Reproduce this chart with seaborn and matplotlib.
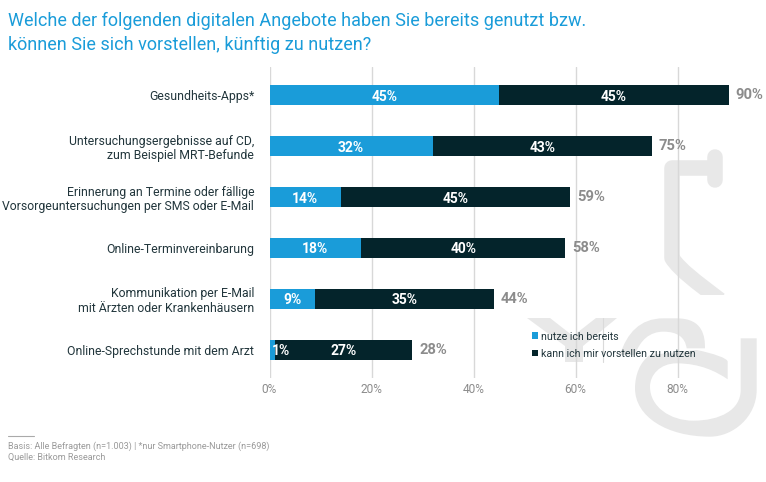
import numpy as np
import pandas as pd
import matplotlib
matplotlib.use("Agg")
import matplotlib.pyplot as plt
from matplotlib.path import Path
from matplotlib.patches import PathPatch, Rectangle
import seaborn as sns

categories = ["Gesundheits-Apps*",
              "Untersuchungsergebnisse auf CD,\nzum Beispiel MRT-Befunde",
              "Erinnerung an Termine oder fällige\nVorsorgeuntersuchungen per SMS oder E-Mail",
              "Online-Terminvereinbarung",
              "Kommunikation per E-Mail\nmit Ärzten oder Krankenhäusern",
              "Online-Sprechstunde mit dem Arzt"]
nutze = [45, 32, 14, 18, 9, 1]
kann = [45, 43, 45, 40, 35, 27]
gesamt = [90, 75, 59, 58, 44, 28]
ticks = [0, 20, 40, 60, 80]

BLUE = "#1A9CD9"
DARK = "#04242B"
GRAY = "#8C8C8C"
TXT = "#22363C"
W, H = 766, 482

sns.set_theme(style="white")
plt.rcParams["font.family"] = ["Roboto", "DejaVu Sans"]

df = pd.DataFrame({"cat": categories, "nutze": nutze, "kann": kann, "gesamt": gesamt})

fig = plt.figure(figsize=(W / 100, H / 100), dpi=100, facecolor="white")

# decorative watermark in figure pixels
bg = fig.add_axes([0, 0, 1, 1], zorder=0)
bg.set_xlim(0, W); bg.set_ylim(H, 0); bg.axis("off")
wm = "#E8E8E8"
M, L, C = Path.MOVETO, Path.LINETO, Path.CURVE4
def stroke(verts, codes, lw, cap="butt"):
    bg.add_patch(PathPatch(Path(verts, codes), fill=False, ec=wm, lw=lw * 0.72, capstyle=cap, joinstyle="round"))
def shape(verts, codes):
    bg.add_patch(PathPatch(Path(verts, codes), fc=wm, ec="none"))
def crop(pts):
    return [(620 + x / 3, 300 + y / 3) for x, y in pts]

stroke([(715, 157), (715, 180)], [M, L], 15.5, "round")
stroke([(715, 168), (690, 168), (672, 168), (672, 190), (672, 210), (672, 240),
        (672, 258), (680, 270), (695, 281), (720, 300)],
       [M, L, L, C, C, L, L, C, C, L], 15.5)
bg.add_patch(Rectangle((640, 295), 100, 23, fc="white", ec="none"))
shape([(527, 318), (550, 318), (573, 336), (596, 318), (617, 318),
       (583, 346), (583, 362), (565, 362), (565, 346), (527, 318)],
      [M, L, L, L, L, L, L, L, L, L])
bg.plot([603, 603], [318, 362], color="#DADADA", lw=0.8)
# arch
shape(crop([(0, 165), (20, 100), (60, 55), (130, 55), (170, 55), (250, 55), (255, 110), (255, 145),
            (200, 145), (195, 110), (170, 95), (130, 95), (90, 95), (60, 120), (45, 165), (0, 165)]),
      [M, C, C, C, L, C, C, C, L, C, C, C, C, C, C, L])
# ring
shape(crop([(362, 115), (410, 115), (410, 270), (410, 350), (340, 410), (270, 410),
            (140, 410), (45, 350), (45, 265), (45, 225), (60, 185), (90, 165),
            (230, 150), (280, 160), (323, 175), (323, 185), (323, 238),
            (290, 215), (240, 190), (170, 190), (120, 190), (90, 225), (90, 260),
            (90, 320), (150, 362), (220, 362), (300, 362), (362, 330), (362, 270), (362, 115)]),
      [M, L, L, C, C, C, C, C, C, C, C, C, L, C, C, C, L,
       C, C, C, C, C, C, C, C, C, C, C, C, L])

ax = fig.add_axes([269.5 / W, 1 - 378 / H, 459 / W, 311 / H], zorder=1)
ax.patch.set_alpha(0)
sns.barplot(data=df, y="cat", x="gesamt", color=DARK, saturation=1, width=0.41, linewidth=0,
            label="kann ich mir vorstellen zu nutzen", ax=ax, zorder=3)
dark_bars = ax.containers[0]
sns.barplot(data=df, y="cat", x="nutze", color=BLUE, saturation=1, width=0.41, linewidth=0,
            label="nutze ich bereits", ax=ax, zorder=3)

ax.set_xlim(0, 90)
ax.set_ylim(5.55, -0.55)
ax.set_xticks(ticks)
ax.set_xticklabels([f"{t}%" for t in ticks], fontsize=8.6, color=GRAY)
ax.set_xlabel(""); ax.set_ylabel("")
ax.tick_params(axis="x", length=0, pad=3.5)
ax.tick_params(axis="y", length=0, pad=11, labelsize=8.8, labelcolor=TXT)
for lab in ax.get_yticklabels():
    lab.set_linespacing(1.12)
ax.xaxis.grid(True, color="#D8D8D8", lw=1)
ax.yaxis.grid(False)
ax.set_axisbelow(True)
sns.despine(ax=ax, left=True, bottom=True, top=True, right=True)

for i, (a, b, g) in enumerate(zip(nutze, kann, gesamt)):
    if a >= 5:
        ax.text(a / 2, i, f"{a}%", ha="center", va="center_baseline", color="white", fontsize=10, fontweight="bold", zorder=5)
    else:
        ax.annotate(f"{a}%", (a, i), xytext=(-2, 0), textcoords="offset points", ha="left", va="center_baseline",
                    color="white", fontsize=10, fontweight="bold", zorder=5)
    ax.text(a + b / 2, i, f"{b}%", ha="center", va="center_baseline", color="white", fontsize=10, fontweight="bold", zorder=5)
ax.bar_label(dark_bars, labels=[f"{g}%" for g in gesamt], padding=5, color=GRAY,
             fontsize=10.6, fontweight="bold", clip_on=False)

hs, ls = ax.get_legend_handles_labels()
order = [ls.index("nutze ich bereits"), ls.index("kann ich mir vorstellen zu nutzen")]
leg = ax.legend([hs[i] for i in order], [ls[i] for i in order], frameon=False, fontsize=7.7,
                loc="upper left", bbox_to_anchor=(532 / W, 1 - 331.5 / H), bbox_transform=fig.transFigure,
                handlelength=0.55, handleheight=0.55, handletextpad=0.25, labelspacing=0.68,
                borderpad=0, borderaxespad=0, labelcolor=TXT)

fig.text(8 / W, 1 - 25.5 / H, "Welche der folgenden digitalen Angebote haben Sie bereits genutzt bzw.",
         fontsize=13.0, color=BLUE, va="baseline")
fig.text(8 / W, 1 - 50 / H, "können Sie sich vorstellen, künftig zu nutzen?",
         fontsize=13.0, color=BLUE, va="baseline")
fig.add_artist(plt.Line2D([8 / W, 34 / W], [1 - 435.5 / H] * 2, color="#AAAAAA", lw=0.8))
fig.text(8 / W, 1 - 449 / H, "Basis: Alle Befragten (n=1.003) | *nur Smartphone-Nutzer (n=698)",
         fontsize=6.5, color="#9A9A9A", va="baseline")
fig.text(8 / W, 1 - 460 / H, "Quelle: Bitkom Research", fontsize=6.5, color="#9A9A9A", va="baseline")

fig.savefig("out.png", dpi=100)
